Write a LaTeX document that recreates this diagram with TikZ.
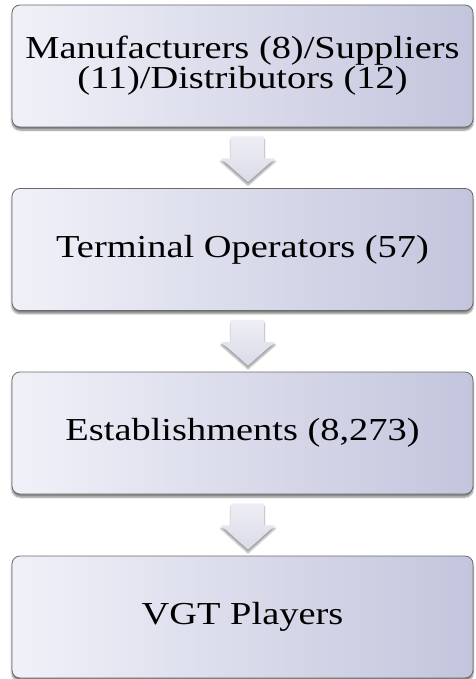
\documentclass[tikz,border=0pt]{standalone}
\usepackage{fontspec}
\setmainfont[FakeStretch=1.2]{Liberation Serif}
\usetikzlibrary{shadows.blur,calc}
\definecolor{boxL}{HTML}{F0F1F8}
\definecolor{boxM}{HTML}{E4E5F0}
\definecolor{boxR}{HTML}{C3C5DD}
\definecolor{edgecol}{HTML}{6A6A6A}
\definecolor{arrT}{HTML}{EEEEF5}
\definecolor{arrB}{HTML}{DADBE9}
\tikzset{
  stagebox/.style={draw=edgecol, line width=0.8pt, rounded corners=8pt,
    minimum width=461pt, minimum height=122pt, inner sep=0pt,
    left color=boxL, middle color=boxM, right color=boxR,
    align=center, font=\fontsize{32}{27}\selectfont, text=black,
    blur shadow={shadow xshift=0pt, shadow yshift=-3pt, shadow blur steps=6, shadow opacity=50}},
  downarrow/.style={top color=arrT, bottom color=arrB, draw=none,
    blur shadow={shadow xshift=0pt, shadow yshift=-3pt, shadow blur steps=6, shadow opacity=40}}
}
\begin{document}
\begin{tikzpicture}[x=1pt,y=1pt]
\useasboundingbox (0,0) rectangle (475,-679);
\node[stagebox] (b1) at (242.5,-66) {Manufacturers (8)/Suppliers\\(11)/Distributors (12)};
\node[stagebox] (b2) at (242.5,-249.5) {Terminal Operators (57)};
\node[stagebox] (b3) at (242.5,-433) {Establishments (8,273)};
\node[stagebox] (b4) at (242.5,-617) {VGT Players};
\foreach \a/\b in {b1/b2,b2/b3,b3/b4}{
  \path[downarrow] ($(\a.south)+(-11.5,-9)$) -- ($(\a.south)+(21.5,-9)$)
    -- ($(\a.south)+(21.5,-31)$) -- ($(\a.south)+(32.5,-31)$)
    -- ($(\b.north)+(5.5,6)$) -- ($(\a.south)+(-21.5,-31)$)
    -- ($(\a.south)+(-11.5,-31)$) -- cycle;
}
\end{tikzpicture}
\end{document}
